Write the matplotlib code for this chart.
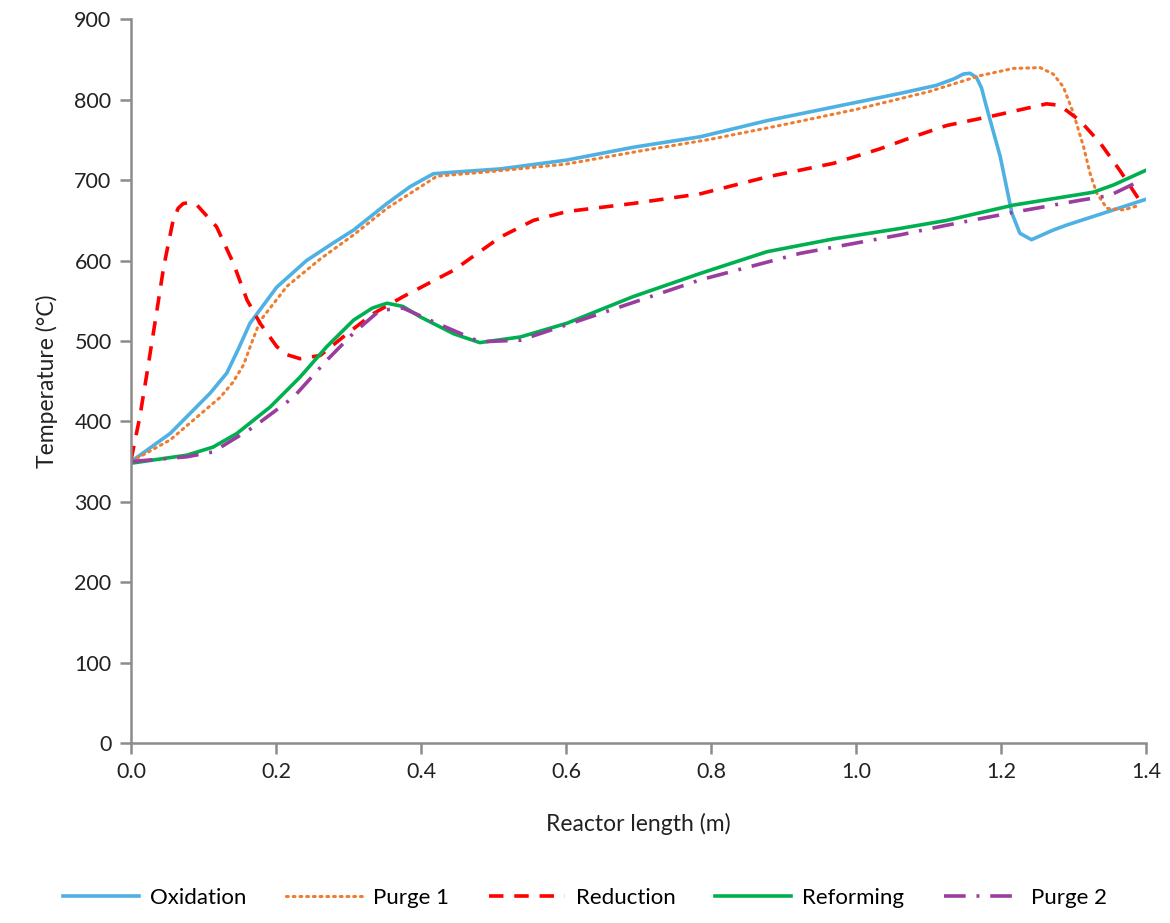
import matplotlib.pyplot as plt

plt.rcParams['font.family'] = ['Lato', 'DejaVu Sans']

# reactor length (m) and temperature (°C) for each step of the cycle
x_oxidation = [0.0, 0.054, 0.109, 0.132, 0.148, 0.164, 0.201, 0.242, 0.279, 0.307,
               0.353, 0.385, 0.417, 0.445, 0.509, 0.601, 0.693, 0.785, 0.877, 0.969,
               1.061, 1.111, 1.135, 1.148, 1.157, 1.166, 1.173, 1.180, 1.199, 1.215,
               1.226, 1.242, 1.272, 1.290, 1.355, 1.399]
t_oxidation = [350, 385, 435, 460, 490, 522, 567, 600, 622, 638,
               671, 692, 708, 710, 714, 725, 741, 754, 774, 791,
               808, 818, 826, 832, 833, 828, 815, 791, 729, 659,
               634, 626, 638, 644, 663, 676]

x_purge1 = [0.0, 0.054, 0.123, 0.140, 0.155, 0.166, 0.178, 0.215, 0.261, 0.307,
            0.353, 0.422, 0.5, 0.6, 0.7, 0.8, 0.9, 1.0, 1.1, 1.171,
            1.217, 1.254, 1.272, 1.286, 1.300, 1.314, 1.323, 1.332, 1.346, 1.369,
            1.392]
t_purge1 = [350, 377, 430, 448, 470, 497, 525, 568, 602, 632,
            665, 705, 711, 720, 736, 751, 769, 788, 810, 830,
            839, 840, 832, 816, 783, 741, 708, 684, 665, 663,
            669]

x_reduction = [0.0, 0.012, 0.022, 0.035, 0.045, 0.058, 0.065, 0.072, 0.080, 0.091,
               0.118, 0.141, 0.160, 0.178, 0.201, 0.215, 0.233, 0.261, 0.298, 0.334,
               0.375, 0.445, 0.509, 0.555, 0.601, 0.692, 0.785, 0.877, 0.969, 1.033,
               1.079, 1.125, 1.194, 1.263, 1.281, 1.309, 1.337, 1.364, 1.394]
t_reduction = [352, 405, 460, 534, 592, 650, 665, 671, 672, 669,
               642, 597, 551, 522, 493, 483, 478, 482, 509, 534,
               555, 588, 629, 650, 661, 671, 683, 704, 721, 739,
               754, 768, 781, 795, 793, 774, 746, 712, 671]

x_reforming = [0.0, 0.077, 0.113, 0.146, 0.192, 0.233, 0.270, 0.307, 0.333, 0.353,
               0.375, 0.399, 0.445, 0.481, 0.537, 0.601, 0.692, 0.785, 0.877, 0.969,
               1.061, 1.125, 1.217, 1.327, 1.355, 1.399]
t_reforming = [348, 358, 368, 385, 418, 455, 493, 526, 541, 547,
               543, 530, 509, 498, 505, 522, 555, 584, 611, 627,
               640, 650, 669, 685, 694, 712]

x_purge2 = [0.0, 0.077, 0.113, 0.169, 0.224, 0.270, 0.307, 0.343, 0.375, 0.422,
            0.481, 0.537, 0.647, 0.785, 0.923, 1.061, 1.125, 1.217, 1.309, 1.350,
            1.389]
t_purge2 = [350, 356, 362, 393, 430, 476, 510, 538, 541, 522,
            499, 501, 534, 576, 609, 632, 644, 660, 675, 681,
            698]

fig = plt.figure(figsize=(11.7, 9.23), dpi=100)
ax = fig.add_axes([0.112, 0.195, 0.8675, 0.784])

lw = 2.6
ax.plot(x_oxidation, t_oxidation, color='#4EB1E4', lw=lw, label='Oxidation')
ax.plot(x_purge1, t_purge1, color='#ED7D31', lw=2.2, ls=(0, (0.6, 1.6)),
        dash_capstyle='round', label='Purge 1')
ax.plot(x_reduction, t_reduction, color='#FF0000', lw=lw, ls=(0, (4, 3)), label='Reduction')
ax.plot(x_reforming, t_reforming, color='#00B050', lw=lw, label='Reforming')
ax.plot(x_purge2, t_purge2, color='#9B3D9E', lw=lw, ls=(0, (6, 3, 0.8, 3)), label='Purge 2')

ax.set_xlim(0, 1.4)
ax.set_ylim(0, 900)
ax.set_xticks([0.0, 0.2, 0.4, 0.6, 0.8, 1.0, 1.2, 1.4])
ax.set_yticks(range(0, 901, 100))
ax.xaxis.set_major_formatter(plt.FormatStrFormatter('%.1f'))

for side in ['top', 'right']:
    ax.spines[side].set_visible(False)
for side in ['left', 'bottom']:
    ax.spines[side].set_color('#8c8c8c')
    ax.spines[side].set_linewidth(1.8)
ax.tick_params(direction='out', length=8, width=1.8, color='#8c8c8c',
               labelsize=15.5, labelcolor='#222222', pad=6)

ax.set_xlabel('Reactor length (m)', fontsize=16.5, color='#222222', labelpad=22)
ax.set_ylabel('Temperature (°C)', fontsize=16.5, color='#222222', labelpad=12)

fig.legend(loc='lower center', bbox_to_anchor=(0.5, -0.005), ncol=5, frameon=False,
           fontsize=16, handlelength=3.4, columnspacing=1.8, handletextpad=0.5)

fig.savefig('out.png', dpi=100)
